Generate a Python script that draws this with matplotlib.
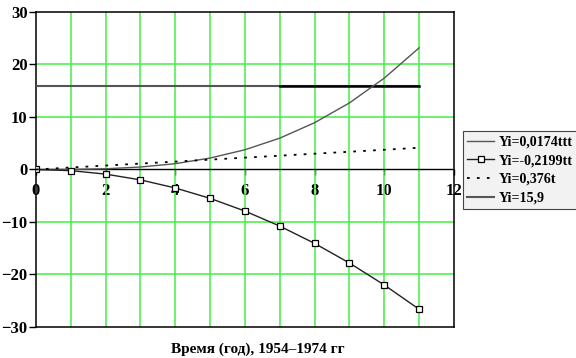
import matplotlib
matplotlib.use("Agg")
import matplotlib.pyplot as plt
import numpy as np

# values, t = 0..11
t = [0, 1, 2, 3, 4, 5, 6, 7, 8, 9, 10, 11]
y_cubic = [0, 0.02, 0.14, 0.47, 1.11, 2.18, 3.76, 5.97, 8.91, 12.68, 17.4, 23.16]
y_square = [0, -0.22, -0.88, -1.98, -3.52, -5.50, -7.92, -10.78, -14.07, -17.81, -21.99, -26.61]
y_linear = [0, 0.38, 0.75, 1.13, 1.50, 1.88, 2.26, 2.63, 3.01, 3.38, 3.76, 4.14]
level = 15.9
level_span = [0, 11]
level_bold_span = [7, 11]

x_ticks = [0, 2, 4, 6, 8, 10, 12]
y_ticks = [-30, -20, -10, 0, 10, 20, 30]
legend_labels = ["Yi=0,0174ttt", "Yi=-0,2199tt", "Yi=0,376t", "Yi=15,9"]
xlabel = "Время (год), 1954–1974 гг"

plt.rcParams['font.family'] = ['Liberation Serif', 'DejaVu Serif']
plt.rcParams['font.weight'] = 'bold'

fig = plt.figure(figsize=(5.76, 3.58), dpi=100)
ax = fig.add_axes([0.0625, 0.0866, 0.7255, 0.8799])
ax.set_xlim(0, 12)
ax.set_ylim(-30, 30)

green = '#44f044'
for gx in range(1, 12):
    ax.axvline(gx, color=green, lw=1.1, zorder=1)
for gy in [-20, -10, 10, 20]:
    ax.axhline(gy, color=green, lw=1.1, zorder=1)
ax.axhline(0, color='black', lw=1.0, zorder=2)

l1, = ax.plot(t, y_cubic, color='#555555', lw=1.0, zorder=4)
l2, = ax.plot(t, y_square, color='#222222', lw=1.0, marker='s', ms=4,
              mfc='white', mec='black', mew=0.9, zorder=4)
l3, = ax.plot(t, y_linear, color='black', lw=1.3, ls=(0, (1.5, 4)), zorder=4)
l4, = ax.plot(level_span, [level, level], color='#555555', lw=1.5, zorder=3)
ax.plot(level_bold_span, [level, level], color='black', lw=1.8, zorder=3)

ax.set_yticks(y_ticks)
ax.set_xticks([])
ax.tick_params(axis='y', direction='out', length=5, width=1, labelsize=12, pad=1)
for lab in ax.get_yticklabels():
    lab.set_fontweight('bold')
for sp in ax.spines.values():
    sp.set_linewidth(1.1)
    sp.set_color('black')

# x axis drawn on the zero line, labels below it
sec = ax.secondary_xaxis(0.5)
sec.set_alignment('bottom')
sec.set_xticks(x_ticks)
sec.spines['bottom'].set_visible(False)
sec.spines['top'].set_visible(False)
sec.tick_params(direction='out', length=4, width=1, labelsize=12, pad=6)
for lab in sec.get_xticklabels():
    lab.set_fontweight('bold')

fig.text(0.447, 0.025, xlabel, ha='center', va='center', fontsize=11, fontweight='bold')

leg = fig.legend([l1, l2, l3, l4], legend_labels, loc='upper left',
                 bbox_to_anchor=(0.804, 0.633), prop={'size': 10.1, 'weight': 'bold'},
                 frameon=True, fancybox=False, edgecolor='#444444', facecolor='#f2f2f2',
                 framealpha=1, handlelength=1.9, handletextpad=0.35, labelspacing=0.4,
                 borderpad=0.3, borderaxespad=0)
leg.get_frame().set_linewidth(0.8)

fig.savefig("out.png", dpi=100)
